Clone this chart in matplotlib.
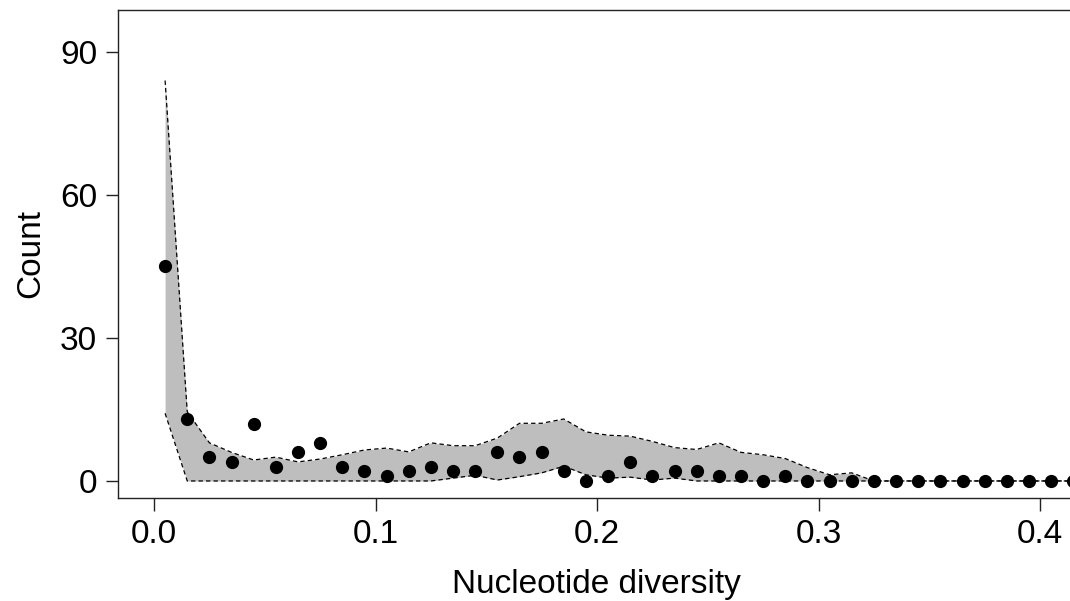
import numpy as np
import matplotlib
matplotlib.use("Agg")
import matplotlib.pyplot as plt

plt.rcParams["font.family"] = ["Liberation Sans", "DejaVu Sans"]

# bin centres of nucleotide diversity
diversity = np.round(np.arange(0.005, 0.42, 0.01), 3)

# observed counts per bin
observed = [45, 13, 5, 4, 12, 3, 6, 8, 3, 2,
            1, 2, 3, 2, 2, 6, 5, 6, 2, 0,
            1, 4, 1, 2, 2, 1, 1, 0, 1, 0,
            0, 0, 0, 0, 0, 0, 0, 0, 0, 0,
            0, 0]

# simulated envelope (lower / upper bounds)
env_upper = [84, 14.5, 8, 6, 4.4, 5, 4, 4.6, 5.5, 6.5,
             6.9, 6.1, 8, 7.4, 7.4, 9, 12.1, 12.1, 13, 10.3,
             9.6, 9.4, 8.3, 7, 6.6, 8, 6, 5.5, 4.7, 2.8,
             1.3, 1.7, 0, 0, 0, 0, 0, 0, 0, 0,
             0, 0]
env_lower = [14.2, 0, 0, 0, 0, 0, 0, 0, 0, 0,
             0, 0, 0, 0.6, 1.2, 0.2, 0.9, 1.7, 3.1, 1.3,
             0.6, 0.8, 0.2, 0.6, 0, 0, 0, 0, 0, 0,
             0, 0, 0, 0, 0, 0, 0, 0, 0, 0,
             0, 0]

xticks = [0.0, 0.1, 0.2, 0.3, 0.4]
yticks = [0, 30, 60, 90]

fig = plt.figure(figsize=(10.7, 6.01), dpi=100)
ax = fig.add_axes([0.1103, 0.1714, 0.8944, 0.812])

# envelope band with dashed borders, then observed counts on top
ax.fill_between(diversity, env_lower, env_upper, color="#bebebe", linewidth=0)
ax.plot(diversity, env_upper, color="black", linewidth=0.9, linestyle=(0, (3.5, 2.5)))
ax.plot(diversity, env_lower, color="black", linewidth=0.9, linestyle=(0, (3.5, 2.5)))
ax.plot(diversity, observed, "o", color="black", markersize=8.5)

ax.set_xlim(-0.01625, 0.4158)
ax.set_ylim(-3.57, 98.8)
ax.set_xticks(xticks)
ax.set_xticklabels(["0.0", "0.1", "0.2", "0.3", "0.4"])
ax.set_yticks(yticks)

for side in ("left", "top", "bottom", "right"):
    ax.spines[side].set_linewidth(1.0)
    ax.spines[side].set_color("#222222")

ax.tick_params(axis="both", direction="out", length=9, width=1.0,
               color="#222222", labelsize=24, pad=6)
ax.set_xlabel("Nucleotide diversity", fontsize=24, labelpad=14)
ax.set_ylabel("Count", fontsize=24, labelpad=10)

fig.savefig("out.png", dpi=100)
